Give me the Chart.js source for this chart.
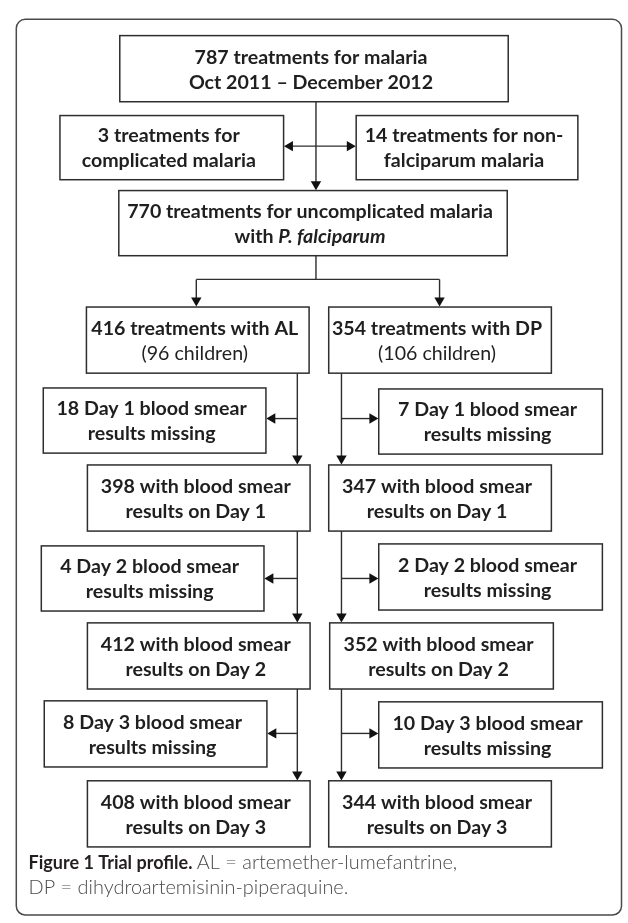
<!DOCTYPE html>
<html>
<head>
<meta charset="utf-8">
<script src="https://cdn.jsdelivr.net/npm/chart.js@4.4.1/dist/chart.umd.min.js"></script>
<style>
  html, body { margin: 0; padding: 0; background: #fff; }
  canvas { display: block; }
</style>
</head>
<body>
<canvas id="flow" width="628" height="923"></canvas>
<script>
// ── counts ──
const SCREENED = 787;
const PERIOD = 'Oct 2011 – December 2012';
const COMPLICATED = 3;
const NON_FALCIPARUM = 14;
const UNCOMPLICATED = 770;
const ARMS = ['AL', 'DP'];
const ARM_TOTALS = [416, 354];
const ARM_CHILDREN = [96, 106];
const DAYS = [1, 2, 3];
const AL_MISSING = [18, 4, 8];
const DP_MISSING = [7, 2, 10];
const AL_WITH_SMEAR = [398, 412, 408];
const DP_WITH_SMEAR = [347, 352, 344];
const CAPTION_TITLE = 'Figure 1 Trial profile.';
const CAPTION_TEXT = ['AL = artemether-lumefantrine,', 'DP = dihydroartemisinin-piperaquine.'];

// ── layout, in chart units (x 0..628, y 0..923 top-down) ──
const BOX = {
  top:   [116, 30, 512, 97],
  compl: [55, 111, 283, 176],
  nonf:  [357, 111, 583, 176],
  unc:   [115, 187, 511, 253],
  arm:   [[82, 305, 309, 372], [329, 305, 556, 372]],
  miss:  [[[38, 387, 265, 453], [36, 547, 263, 613], [39, 704, 266, 771]],
          [[380, 388, 608, 454], [380, 545, 608, 612], [380, 705, 608, 772]]],
  smear: [[[83, 465, 310, 532], [83, 625, 310, 692], [83, 785, 310, 852]],
          [[329, 465, 556, 532], [330, 625, 558, 692], [329, 785, 556, 852]]],
};
const MAIN_X = 316;
const SIDE_Y = 142;
const SPLIT_Y = 277;
const SPLIT_X = [194, 442];
const SPINE_X = [297, 342];
const BRANCH_Y = [418, 580, 737];
const HEAD = 6;

const INK = '#1f1f1f';
const LINE = '#2e2e2e';
const FAMILY = 'Lato, "Open Sans", sans-serif';

// ── node texts ──
const b = t => ({ t, f: 'bold' });
const r = t => ({ t, f: 'normal' });
const bi = t => ({ t, f: 'italic bold' });

const missing = [AL_MISSING, DP_MISSING];
const withSmear = [AL_WITH_SMEAR, DP_WITH_SMEAR];

const NODES = [
  { box: BOX.top, lines: [[b(`${SCREENED} treatments for malaria`)], [b(PERIOD)]] },
  { box: BOX.compl, lines: [[b(`${COMPLICATED} treatments for`)], [b('complicated malaria')]] },
  { box: BOX.nonf, lines: [[b(`${NON_FALCIPARUM} treatments for non-`)], [b('falciparum malaria')]] },
  { box: BOX.unc, lines: [[b(`${UNCOMPLICATED} treatments for uncomplicated malaria`)], [b('with '), bi('P. falciparum')]] },
];
ARMS.forEach((arm, a) => {
  NODES.push({ box: BOX.arm[a], lines: [[b(`${ARM_TOTALS[a]} treatments with ${arm}`)], [r(`(${ARM_CHILDREN[a]} children)`)]] });
  DAYS.forEach((d, i) => {
    NODES.push({ box: BOX.miss[a][i], lines: [[b(`${missing[a][i]} Day ${d} blood smear`)], [b('results missing')]] });
    NODES.push({ box: BOX.smear[a][i], lines: [[b(`${withSmear[a][i]} with blood smear`)], [b(`results on Day ${d}`)]] });
  });
});

// ── connectors as line datasets, arrowheads are triangle points ──
function connector(pts, end = true, start = false) {
  const p = pts.map(([x, y]) => ({ x, y }));
  const radius = p.map(() => 0);
  const rot = p.map(() => 0);
  const head = (i, j) => {
    const dx = p[i].x - p[j].x, dy = p[i].y - p[j].y;
    const len = Math.hypot(dx, dy);
    p[i] = { x: p[i].x - dx / len * (HEAD + 0.5), y: p[i].y - dy / len * (HEAD + 0.5) };
    radius[i] = HEAD;
    rot[i] = Math.atan2(dx, -dy) * 180 / Math.PI;
  };
  if (end) head(p.length - 1, p.length - 2);
  if (start) head(0, 1);
  return {
    data: p,
    showLine: true,
    borderColor: LINE,
    borderWidth: 1.4,
    pointStyle: 'triangle',
    pointRadius: radius,
    pointRotation: rot,
    pointBackgroundColor: '#111',
    pointBorderWidth: 0,
    fill: false,
    tension: 0,
  };
}

const datasets = [
  connector([[MAIN_X, BOX.top[3]], [MAIN_X, BOX.unc[1]]]),
  connector([[BOX.compl[2], SIDE_Y], [BOX.nonf[0], SIDE_Y]], true, true),
  connector([[MAIN_X, BOX.unc[3]], [MAIN_X, SPLIT_Y]], false),
  connector([[SPLIT_X[0], SPLIT_Y], [SPLIT_X[1], SPLIT_Y]], false),
];
ARMS.forEach((arm, a) => {
  datasets.push(connector([[SPLIT_X[a], SPLIT_Y], [SPLIT_X[a], BOX.arm[a][1]]]));
  DAYS.forEach((d, i) => {
    const from = i === 0 ? BOX.arm[a] : BOX.smear[a][i - 1];
    datasets.push(connector([[SPINE_X[a], from[3]], [SPINE_X[a], BOX.smear[a][i][1]]]));
    const edge = a === 0 ? BOX.miss[a][i][2] : BOX.miss[a][i][0];
    datasets.push(connector([[SPINE_X[a], BRANCH_Y[i]], [edge, BRANCH_Y[i]]]));
  });
});

function fitSize(ctx, text, target, weight, family) {
  ctx.font = `${weight} 100px ${family}`;
  return 100 * target / ctx.measureText(text).width;
}

const flowPlugin = {
  id: 'flow',
  beforeDatasetsDraw(chart) {
    const { ctx, scales: { x, y } } = chart;
    // outer figure frame
    const x0 = x.getPixelForValue(10.5), y0 = y.getPixelForValue(13.5);
    const x1 = x.getPixelForValue(627.5), y1 = y.getPixelForValue(921);
    ctx.save();
    ctx.strokeStyle = '#4a4a4a';
    ctx.lineWidth = 1.5;
    ctx.beginPath();
    ctx.roundRect(x0, y0, x1 - x0, y1 - y0, 9);
    ctx.stroke();
    ctx.restore();
  },
  afterDatasetsDraw(chart) {
    const { ctx, scales: { x, y } } = chart;
    const size = fitSize(ctx, `${UNCOMPLICATED} treatments for uncomplicated malaria`, 366, 'bold', FAMILY);
    ctx.save();
    NODES.forEach(n => {
      const [bx0, by0, bx1, by1] = n.box;
      const px0 = x.getPixelForValue(bx0), px1 = x.getPixelForValue(bx1);
      const py0 = y.getPixelForValue(by0), py1 = y.getPixelForValue(by1);
      ctx.fillStyle = '#fff';
      ctx.fillRect(px0, py0, px1 - px0, py1 - py0);
      ctx.strokeStyle = LINE;
      ctx.lineWidth = 1.5;
      ctx.strokeRect(px0, py0, px1 - px0, py1 - py0);

      const cx = (px0 + px1) / 2 - 3;
      const cy = (py0 + py1) / 2;
      ctx.fillStyle = INK;
      ctx.textBaseline = 'middle';
      ctx.textAlign = 'left';
      n.lines.forEach((runs, li) => {
        const ly = cy + (li - 0.5) * 25 + 1;
        const widths = runs.map(run => { ctx.font = `${run.f} ${size}px ${FAMILY}`; return ctx.measureText(run.t).width; });
        let lx = cx - widths.reduce((s, w) => s + w, 0) / 2;
        runs.forEach((run, k) => {
          ctx.font = `${run.f} ${size}px ${FAMILY}`;
          ctx.fillText(run.t, lx, ly);
          lx += widths[k];
        });
      });
    });

    // caption
    const capX = x.getPixelForValue(23);
    const titleSize = fitSize(ctx, CAPTION_TITLE, 164, 'bold', FAMILY);
    const bodySize = fitSize(ctx, CAPTION_TEXT[1], 320, '300', FAMILY);
    ctx.textBaseline = 'middle';
    ctx.font = `bold ${titleSize}px ${FAMILY}`;
    ctx.fillStyle = '#231f20';
    ctx.fillText(CAPTION_TITLE, capX, y.getPixelForValue(868));
    const tw = ctx.measureText(CAPTION_TITLE + ' ').width;
    ctx.font = `300 ${bodySize}px ${FAMILY}`;
    ctx.fillStyle = '#4a4a4a';
    ctx.fillText(CAPTION_TEXT[0], capX + tw, y.getPixelForValue(868));
    ctx.fillText(CAPTION_TEXT[1], capX, y.getPixelForValue(893));
    ctx.restore();
  },
};

new Chart(document.getElementById('flow'), {
  type: 'scatter',
  data: { datasets },
  options: {
    responsive: false,
    animation: false,
    events: [],
    layout: { padding: 0 },
    plugins: { legend: { display: false }, tooltip: { enabled: false } },
    scales: {
      x: { type: 'linear', min: 0, max: 628, display: false },
      y: { type: 'linear', min: 0, max: 923, reverse: true, display: false },
    },
  },
  plugins: [flowPlugin],
});
</script>
</body>
</html>
